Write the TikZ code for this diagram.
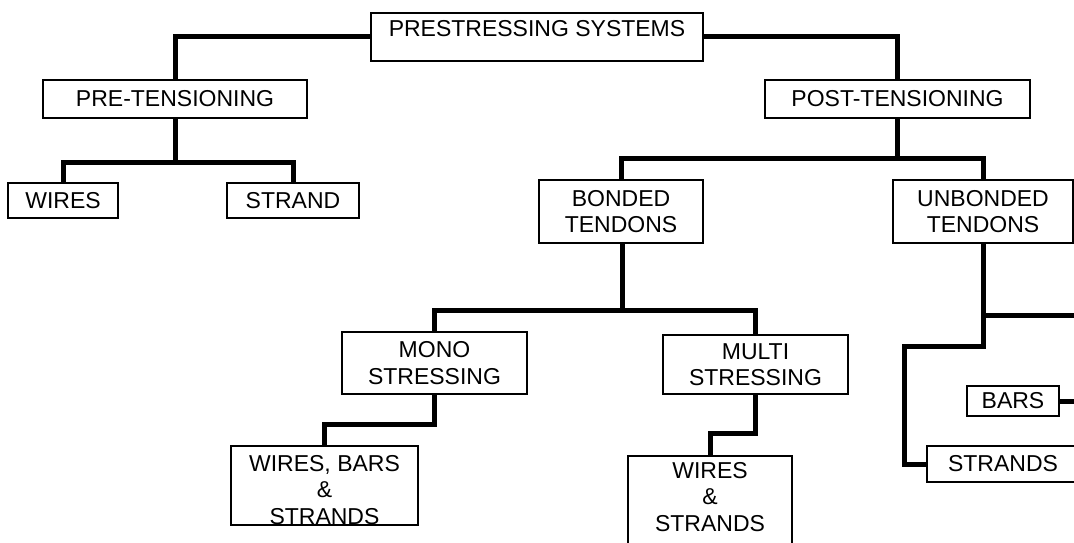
\documentclass[tikz,border=0pt]{standalone}
\usepackage{fontspec}
\setmainfont{Liberation Sans}
\begin{document}
\begin{tikzpicture}[x=1pt,y=-1pt,
  box/.style={draw, line width=1.4pt, rectangle, inner sep=0pt, align=center,
    font={\fontsize{23}{26.5}\selectfont}},
  lbl/.style={inner sep=0pt, align=center, font={\fontsize{23}{26.5}\selectfont}},
  conn/.style={line width=5pt}]
\useasboundingbox (0,0) rectangle (1074,543);
\clip (0,0) rectangle (1074,543);
% boxes
\node[box, minimum width=332, minimum height=48] (ps) at (537,37) {};
\node[lbl] (pstext) at (537,28.8) {PRESTRESSING SYSTEMS};
\node[box, minimum width=264, minimum height=38] (pre) at (175,99) {PRE-TENSIONING};
\node[box, minimum width=265, minimum height=38] (post) at (897.5,99) {POST-TENSIONING};
\node[box, minimum width=110, minimum height=35] (wires1) at (63,200.5) {WIRES};
\node[box, minimum width=132, minimum height=35] (strand1) at (293,200.5) {STRAND};
\node[box, minimum width=164, minimum height=63] (bonded) at (621,211.5) {BONDED\\TENDONS};
\node[box, minimum width=180, minimum height=63] (unbonded) at (983,211.5) {UNBONDED\\TENDONS};
\node[box, minimum width=185, minimum height=62] (mono) at (434.5,363) {MONO\\STRESSING};
\node[box, minimum width=185, minimum height=59] (multi) at (755.5,364.5) {MULTI\\STRESSING};
\node[box, minimum width=187, minimum height=79] (wbs) at (324.5,485.5) {};
\node[lbl, anchor=north] (wbstext) at (324.5,455) {WIRES, BARS\\\&\\STRANDS};
\node[box, minimum width=164, minimum height=110] (ws) at (710,511) {};
\node[lbl, anchor=north] (wstext) at (710,462) {WIRES\\\&\\STRANDS};
\node[box, minimum width=92, minimum height=30] (bars) at (1013,401) {BARS};
\node[box, minimum width=152, minimum height=36] (strands2) at (1003,464) {STRANDS};
% junction coordinates
\coordinate (j1) at (175,162);
\coordinate (j2) at (897.5,158);
\coordinate (j3) at (622,310);
\coordinate (k1) at (380,424);
\coordinate (k2) at (730,433);
\coordinate (u1) at (904,346);
\coordinate (e1) at (1080,315);
\coordinate (e2) at (1080,401);
% connectors
\draw[conn] (ps.west) -| (pre.north);
\draw[conn] (ps.east) -| (post.north);
\draw[conn] (pre.south) -- (j1);
\draw[conn] (wires1.north) |- (j1) -| (strand1.north);
\draw[conn] (post.south) -- (j2);
\draw[conn] (bonded.north) |- (j2) -| (unbonded.north);
\draw[conn] (bonded.south -| j3) -- (j3);
\draw[conn] (mono.north) |- (j3) -| (multi.north);
\draw[conn] (mono.south) |- (k1) -| (wbs.north);
\draw[conn] (multi.south) |- (k2) -| (ws.north);
\draw[conn] (unbonded.south) |- (e1);
\draw[conn] (unbonded.south) |- (u1) |- (strands2.west);
\draw[conn] (bars.east) -- (e2);
\end{tikzpicture}
\end{document}
